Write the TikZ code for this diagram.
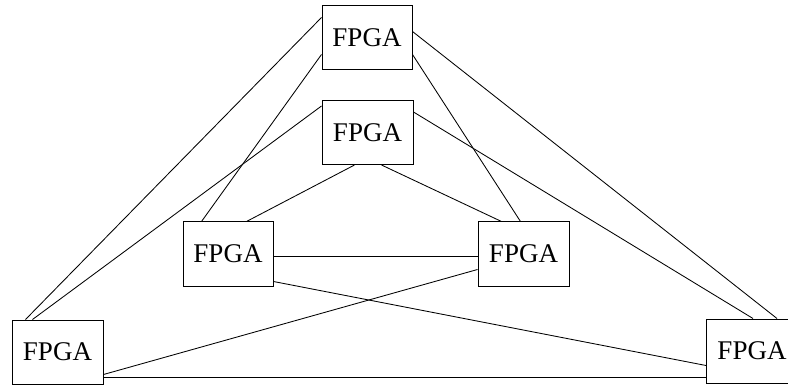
\documentclass[tikz,border=0pt]{standalone}
\usepackage{fontspec}
\setmainfont{Liberation Serif}
\usetikzlibrary{calc}
\begin{document}
\begin{tikzpicture}[x=1pt,y=-1pt,
  fpga/.style={draw,line width=1pt,minimum width=91pt,minimum height=64pt,
    inner sep=0pt,font=\fontsize{27}{31}\selectfont},
  link/.style={line width=0.85pt}]
\useasboundingbox (0,0) rectangle (788,385);
\clip (0,0) rectangle (788,385);
% six FPGA boxes
\node[fpga,minimum width=90pt] (t1) at (367,38) {FPGA};
\node[fpga] (t2) at (367.5,132.5) {FPGA};
\node[fpga,minimum width=90pt] (ml) at (228,254) {FPGA};
\node[fpga] (mr) at (523.5,254) {FPGA};
\node[fpga] (bl) at (57.5,352) {FPGA};
\node[fpga] (br) at (752,351) {FPGA};
% links from the upper box
\draw[link] ($(t1.north west)+(0,12)$) -- ($(bl.north west)+(14,0)$);
\draw[link] ($(t1.north west)+(0,49)$) -- ($(ml.north west)+(19,0)$);
\draw[link] ($(t1.north east)+(0,26)$) -- ($(br.north west)+(71,0)$);
\draw[link] ($(t1.north east)+(0,49)$) -- ($(mr.north west)+(43,0)$);
% links from the second box
\draw[link] ($(t2.north west)+(0,6)$) -- ($(bl.north west)+(21,0)$);
\draw[link] ($(t2.north east)+(0,12)$) -- ($(br.north west)+(47,0)$);
\draw[link] ($(t2.south west)+(33,0)$) -- ($(ml.north west)+(64,0)$);
\draw[link] ($(t2.south west)+(60,0)$) -- ($(mr.north west)+(24,0)$);
% links between the middle and lower boxes
\draw[link] ($(ml.north east)+(0,35)$) -- ($(mr.north west)+(0,35)$);
\draw[link] ($(ml.north east)+(0,60)$) -- ($(br.north west)+(0,47)$);
\draw[link] ($(mr.north west)+(0,48)$) -- ($(bl.north east)+(0,55)$);
\draw[link] ($(bl.north east)+(0,58)$) -- ($(br.north west)+(0,59)$);
\end{tikzpicture}
\end{document}
